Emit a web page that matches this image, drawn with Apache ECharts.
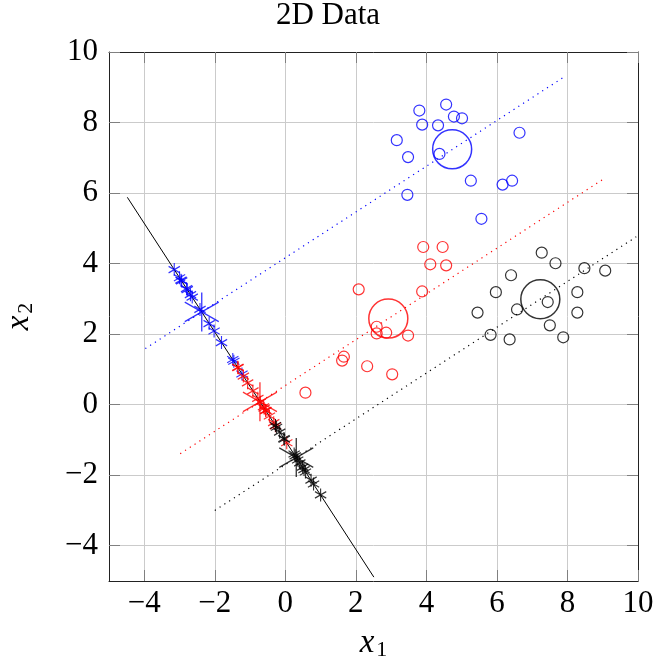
<!DOCTYPE html>
<html>
<head>
<meta charset="utf-8">
<title>2D Data</title>
<script src="https://cdn.jsdelivr.net/npm/echarts@6/dist/echarts.min.js"></script>
<style>
  html, body { margin: 0; padding: 0; background: #fff; }
  #chart { width: 656px; height: 661px; }
</style>
</head>
<body>
<div id="chart"></div>
<script>
// Tick positions for both axes
const xTicks = [-4, -2, 0, 2, 4, 6, 8, 10];
const yTicks = [-4, -2, 0, 2, 4, 6, 8, 10];

// Raw 2D samples of the three classes
const blueClass = [
  [3.80, 8.34], [4.56, 8.51], [4.78, 8.17], [5.01, 8.12], [3.88, 7.94],
  [4.33, 7.92], [3.16, 7.50], [6.64, 7.71], [3.48, 7.02], [4.37, 7.11],
  [5.26, 6.35], [6.16, 6.24], [6.43, 6.35], [3.46, 5.95], [5.56, 5.27]
];
const redClass = [
  [3.91, 4.47], [4.46, 4.47], [4.11, 3.98], [4.56, 3.95], [2.08, 3.27],
  [3.88, 3.21], [2.59, 2.21], [2.59, 2.02], [2.86, 2.04], [3.48, 1.96],
  [1.66, 1.36], [1.61, 1.25], [2.32, 1.09], [3.03, 0.86], [0.57, 0.34]
];
const blackClass = [
  [7.27, 4.31], [7.66, 4.01], [8.48, 3.87], [9.07, 3.80], [6.40, 3.67],
  [5.97, 3.19], [8.28, 3.19], [7.44, 2.91], [6.57, 2.70], [5.45, 2.61],
  [8.28, 2.61], [7.50, 2.25], [5.82, 1.98], [6.36, 1.85], [7.88, 1.91]
];

// Class means
const blueMean = [4.73, 7.24];
const redMean = [2.92, 2.44];
const blackMean = [7.23, 2.99];

// Samples projected onto the discriminant direction
const blueProj = [
  [-3.15, 3.83], [-3.00, 3.60], [-2.78, 3.26], [-2.69, 3.12], [-2.94, 3.51],
  [-2.80, 3.29], [-2.96, 3.53], [-2.02, 2.09], [-2.64, 3.05], [-2.42, 2.70],
  [-1.81, 1.76], [-1.49, 1.28], [-1.46, 1.23], [-2.16, 2.30], [-1.23, 0.87]
];
const redProj = [
  [-1.35, 1.06], [-1.19, 0.81], [-1.07, 0.62], [-0.92, 0.39], [-1.34, 1.05],
  [-0.78, 0.18], [-0.71, 0.07], [-0.62, -0.06], [-0.55, -0.17], [-0.33, -0.51],
  [-0.60, -0.10], [-0.56, -0.16], [-0.28, -0.60], [0.04, -1.08], [-0.45, -0.32]
];
const blackProj = [
  [-0.28, -0.59], [-0.03, -0.98], [0.28, -1.45], [0.49, -1.77], [-0.25, -0.64],
  [-0.16, -0.78], [0.53, -1.84], [0.41, -1.65], [0.25, -1.40], [-0.04, -0.96],
  [0.80, -2.25], [0.73, -2.14], [0.35, -1.57], [0.57, -1.91], [1.00, -2.56]
];

// Projected class means
const blueMeanProj = [-2.37, 2.63];
const redMeanProj = [-0.72, 0.08];
const blackMeanProj = [0.31, -1.50];

// Discriminant line and the dotted guides through each class
const projLine = [[-4.48, 5.88], [2.51, -4.89]];
const blueGuide = [[-3.97, 1.59], [7.96, 9.33]];
const redGuide = [[-2.98, -1.39], [9.07, 6.43]];
const blackGuide = [[-2.00, -3.00], [9.95, 4.76]];

const BLUE = '#0000ff', RED = '#ff0000', BLACK = '#000000';
const FONT = 'Liberation Serif';
// six-spoke asterisk: one vertical stroke plus two strokes at +/-30 degrees
const ASTERISK = 'path://M0,0L0,20M-8.66,5L8.66,15M-8.66,15L8.66,5';

const fmt = v => String(v).replace('-', '\u2212');

function circles(data, color, size, width) {
  return {
    type: 'scatter', data: data, symbol: 'circle', symbolSize: size,
    itemStyle: { color: 'rgba(0,0,0,0)', borderColor: color, borderWidth: width },
    silent: true, z: 3
  };
}
function stars(data, color, size, width) {
  return {
    type: 'scatter', data: data, symbol: ASTERISK, symbolSize: size,
    itemStyle: { color: color, borderColor: color, borderWidth: width },
    silent: true, z: 5
  };
}
function guide(data, color) {
  return {
    type: 'line', data: data, showSymbol: false, silent: true, z: 2,
    lineStyle: { color: color, width: 1.2, type: [1.2, 4.5] }
  };
}

const nameRich = {
  i: { fontFamily: FONT, fontStyle: 'italic', fontSize: 33, color: '#000' },
  s: { fontFamily: FONT, fontSize: 22, color: '#000', padding: [14, 0, 0, 2] }
};

const frame = { show: true, onZero: false, lineStyle: { color: '#222', width: 1 } };

const chart = echarts.init(document.getElementById('chart'), null, { renderer: 'canvas' });
chart.setOption({
  animation: false,
  backgroundColor: '#fff',
  title: {
    text: '2D Data', left: 'center', top: 0, padding: 0,
    textStyle: { fontFamily: FONT, fontSize: 31, fontWeight: 'normal', color: '#000' }
  },
  grid: {
    left: 109, top: 52, width: 529, height: 529,
    containLabel: false, outerBoundsMode: 'none'
  },
  xAxis: [
    {
      type: 'value', min: -5, max: 10, position: 'bottom',
      axisLine: frame,
      axisTick: { show: true, inside: true, length: 11, customValues: xTicks, lineStyle: { color: '#808080' } },
      axisLabel: { customValues: xTicks, formatter: fmt, margin: 7, fontFamily: FONT, fontSize: 31, color: '#000' },
      splitLine: { show: true, lineStyle: { color: '#cbcbcb', width: 1 } },
      name: '{i|x}{s|1}', nameLocation: 'middle', nameGap: 44,
      nameTextStyle: { rich: nameRich }
    },
    {
      type: 'value', min: -5, max: 10, position: 'top',
      axisLine: frame,
      axisTick: { show: true, inside: true, length: 11, customValues: xTicks, lineStyle: { color: '#808080' } },
      axisLabel: { show: false },
      splitLine: { show: false }
    }
  ],
  yAxis: [
    {
      type: 'value', min: -5, max: 10, position: 'left',
      axisLine: frame,
      axisTick: { show: true, inside: true, length: 11, customValues: yTicks, lineStyle: { color: '#808080' } },
      axisLabel: { customValues: yTicks, formatter: fmt, margin: 11, fontFamily: FONT, fontSize: 31, color: '#000' },
      splitLine: { show: true, lineStyle: { color: '#cbcbcb', width: 1 } },
      name: '{i|x}{s|2}', nameLocation: 'middle', nameGap: 72,
      nameTextStyle: { rich: nameRich }
    },
    {
      type: 'value', min: -5, max: 10, position: 'right',
      axisLine: frame,
      axisTick: { show: true, inside: true, length: 11, customValues: yTicks, lineStyle: { color: '#808080' } },
      axisLabel: { show: false },
      splitLine: { show: false }
    }
  ],
  series: [
    {
      type: 'line', data: projLine, showSymbol: false, silent: true, z: 4,
      lineStyle: { color: BLACK, width: 1 }
    },
    guide(blueGuide, BLUE),
    guide(redGuide, RED),
    guide(blackGuide, BLACK),
    circles(blueClass, BLUE, 11, 1.2),
    circles(redClass, RED, 11, 1.2),
    circles(blackClass, BLACK, 11, 1.2),
    circles([blueMean], BLUE, 39, 1.5),
    circles([redMean], RED, 39, 1.5),
    circles([blackMean], BLACK, 39, 1.5),
    stars(blueProj, BLUE, [11.3, 13], 1.2),
    stars(redProj, RED, [11.3, 13], 1.2),
    stars(blackProj, BLACK, [11.3, 13], 1.2),
    stars([blueMeanProj], BLUE, [34, 39], 1.4),
    stars([redMeanProj], RED, [34, 39], 1.4),
    stars([blackMeanProj], BLACK, [34, 39], 1.4)
  ]
});
</script>
</body>
</html>
